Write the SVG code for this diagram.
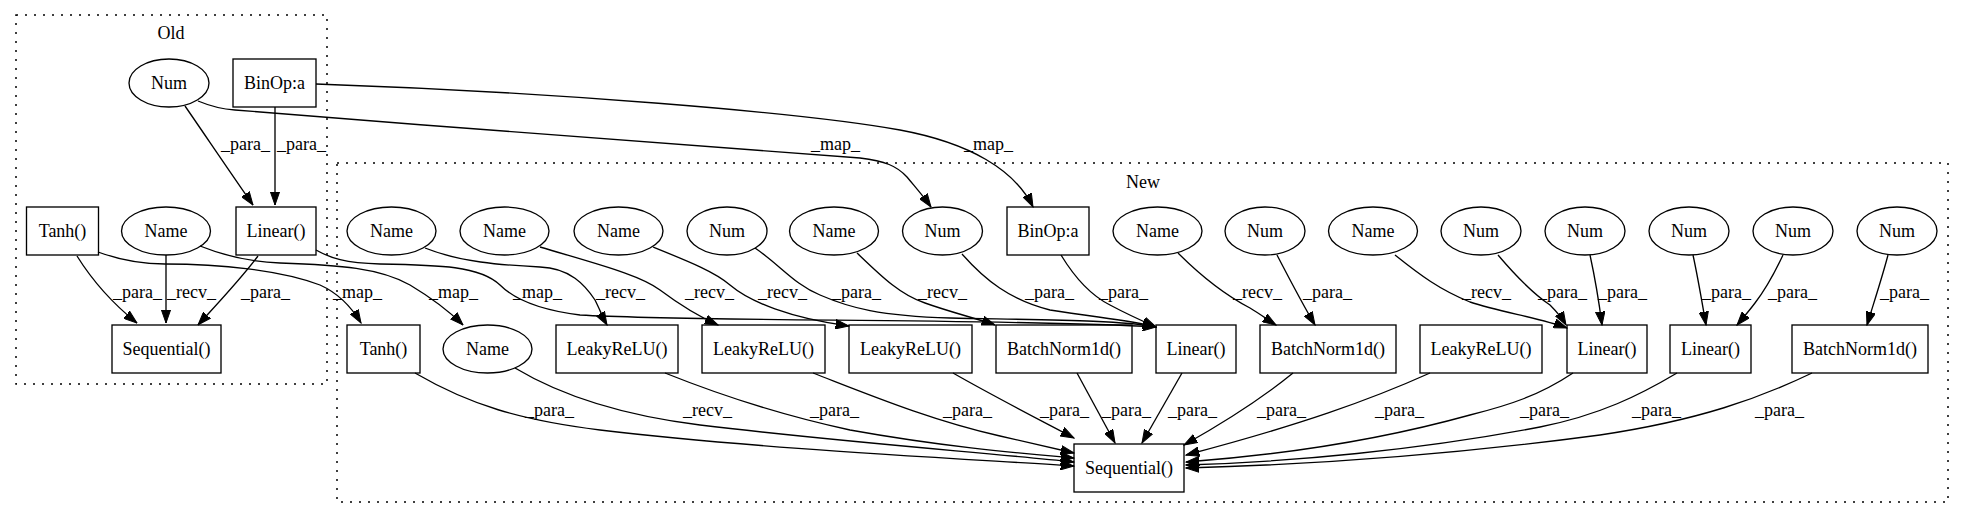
<svg xmlns="http://www.w3.org/2000/svg" width="1964" height="518" viewBox="0 0 1964 518" font-family="'Liberation Serif', 'Times New Roman', 'DejaVu Serif', serif">
<style>
text{font-family:'Liberation Serif','Times New Roman','DejaVu Serif',serif;font-size:18px;fill:#000}
.n{text-anchor:middle}
.s{fill:none;stroke:#000;stroke-width:1.33}
.c{fill:none;stroke:#000;stroke-width:1.5;stroke-dasharray:2,7}
.e{fill:none;stroke:#000;stroke-width:1.33;marker-end:url(#ah)}
</style>
<defs>
<marker id="ah" markerUnits="userSpaceOnUse" markerWidth="14" markerHeight="10" viewBox="0 0 14 10" refX="13.3" refY="5" orient="auto">
<path d="M0,0.33 L13.3,5 L0,9.67 z" fill="#000" stroke="#000" stroke-width="1"/>
</marker>
</defs>
<rect width="1964" height="518" fill="#fff"/>
<g id="cluster_old">
<rect class="c" x="16" y="15" width="311" height="369"/>
<text class="n" x="171" y="39">Old</text>
</g>
<g id="cluster_new">
<rect class="c" x="337" y="163" width="1611" height="339"/>
<text class="n" x="1143" y="188">New</text>
</g>
<g id="connectors">
<path class="e" d="M185,106 C205,135 232,175 253,205"/>
<path class="e" d="M275,107 L275,205"/>
<path class="e" d="M77,256 C92,280 112,303 137,323"/>
<path class="e" d="M166,255 L166,323"/>
<path class="e" d="M258,256 C240,280 218,303 198,325"/>
<path class="e" d="M198,101 C210,106 220,109 235,110 C450,128 700,145 860,158 C885,161 897,166 907,177 C916,188 924,197 931,207"/>
<path class="e" d="M316,84 C550,92 800,112 900,130 C970,143 1015,170 1033,207"/>
<path class="e" d="M98,252 C120,260 140,264 165,264 C220,264 280,270 320,285 C340,294 352,308 361,323"/>
<path class="e" d="M200,246 C225,256 250,262 280,263 C340,265 380,268 410,285 C430,297 450,312 463,325"/>
<path class="e" d="M316,250 C330,258 345,263 380,264 C440,265 480,266 500,285 C515,300 540,310 580,315 C700,322 1000,318 1156,327"/>
<path class="e" d="M425,248 C460,262 500,265 540,267 C570,268 585,285 595,300 C600,310 603,318 607,325"/>
<path class="e" d="M540,247 C600,265 640,275 660,290 C680,305 700,317 718,325"/>
<path class="e" d="M653,247 C690,262 715,272 730,285 C750,302 790,318 849,326"/>
<path class="e" d="M755,248 C780,265 795,285 820,295 C850,308 880,316 950,318 C1050,320 1120,320 1156,327"/>
<path class="e" d="M857,253 C880,275 900,295 925,303 C950,312 975,318 995,325"/>
<path class="e" d="M962,254 C985,280 1010,300 1050,310 C1100,318 1130,320 1156,327"/>
<path class="e" d="M1061,255 C1075,278 1090,295 1110,305 C1125,313 1140,320 1156,327"/>
<path class="e" d="M1178,253 C1200,275 1225,295 1250,308 C1260,314 1268,320 1276,325"/>
<path class="e" d="M1277,255 C1290,280 1303,305 1315,325"/>
<path class="e" d="M1395,255 C1420,275 1440,290 1470,302 C1500,312 1540,318 1567,328"/>
<path class="e" d="M1498,255 C1515,275 1535,295 1550,305 C1557,312 1562,318 1566,325"/>
<path class="e" d="M1590,255 C1595,278 1599,302 1602,325"/>
<path class="e" d="M1693,255 C1698,278 1702,302 1706,325"/>
<path class="e" d="M1783,255 C1775,272 1765,290 1755,303 C1749,311 1743,318 1737,325"/>
<path class="e" d="M1888,255 C1882,278 1874,302 1867,325"/>
<path class="e" d="M415,373 C470,405 520,420 600,430 C750,448 950,458 1074,466"/>
<path class="e" d="M515,368 C560,395 620,415 700,425 C850,443 980,452 1074,462"/>
<path class="e" d="M665,373 C720,395 780,415 850,430 C950,448 1030,454 1074,458"/>
<path class="e" d="M813,373 C870,395 930,420 1000,436 C1040,445 1060,450 1074,453"/>
<path class="e" d="M953,373 C995,397 1040,420 1074,438"/>
<path class="e" d="M1077,373 L1115,443"/>
<path class="e" d="M1182,373 L1142,443"/>
<path class="e" d="M1293,373 C1260,400 1225,422 1184,445"/>
<path class="e" d="M1430,373 C1370,400 1300,425 1186,455"/>
<path class="e" d="M1573,373 C1540,395 1510,405 1470,415 C1380,440 1280,455 1186,462"/>
<path class="e" d="M1677,373 C1640,395 1600,415 1540,427 C1420,450 1290,462 1186,465"/>
<path class="e" d="M1812,373 C1760,398 1700,420 1600,435 C1450,455 1300,465 1186,468"/>
<text x="221" y="150">_para_</text>
<text x="277" y="150">_para_</text>
<text x="113" y="298">_para_</text>
<text x="167" y="298">_recv_</text>
<text x="241" y="298">_para_</text>
<text x="811" y="150">_map_</text>
<text x="964" y="150">_map_</text>
<text x="333" y="298">_map_</text>
<text x="429" y="298">_map_</text>
<text x="513" y="298">_map_</text>
<text x="596" y="298">_recv_</text>
<text x="685" y="298">_recv_</text>
<text x="758" y="298">_recv_</text>
<text x="832" y="298">_para_</text>
<text x="918" y="298">_recv_</text>
<text x="1025" y="298">_para_</text>
<text x="1099" y="298">_para_</text>
<text x="1233" y="298">_recv_</text>
<text x="1303" y="298">_para_</text>
<text x="1462" y="298">_recv_</text>
<text x="1538" y="298">_para_</text>
<text x="1598" y="298">_para_</text>
<text x="1702" y="298">_para_</text>
<text x="1768" y="298">_para_</text>
<text x="1880" y="298">_para_</text>
<text x="525" y="416">_para_</text>
<text x="683" y="416">_recv_</text>
<text x="810" y="416">_para_</text>
<text x="943" y="416">_para_</text>
<text x="1040" y="416">_para_</text>
<text x="1102" y="416">_para_</text>
<text x="1168" y="416">_para_</text>
<text x="1257" y="416">_para_</text>
<text x="1375" y="416">_para_</text>
<text x="1520" y="416">_para_</text>
<text x="1632" y="416">_para_</text>
<text x="1755" y="416">_para_</text>
</g>
<g id="old_num"><ellipse class="s" cx="169" cy="83" rx="40" ry="24"/><text class="n" x="169" y="89">Num</text></g>
<g id="old_binop"><rect class="s" x="233" y="59" width="83" height="48"/><text class="n" x="274.5" y="89">BinOp:a</text></g>
<g id="old_tanh"><rect class="s" x="26.5" y="207" width="72" height="48"/><text class="n" x="62.5" y="237">Tanh()</text></g>
<g id="old_name"><ellipse class="s" cx="166" cy="231" rx="44.5" ry="24"/><text class="n" x="166" y="237">Name</text></g>
<g id="old_linear"><rect class="s" x="236" y="207" width="80" height="48"/><text class="n" x="276" y="237">Linear()</text></g>
<g id="old_sequential"><rect class="s" x="112" y="325" width="109" height="48"/><text class="n" x="166.5" y="355">Sequential()</text></g>
<g id="new_name1"><ellipse class="s" cx="391.5" cy="231" rx="44.5" ry="24"/><text class="n" x="391.5" y="237">Name</text></g>
<g id="new_name2"><ellipse class="s" cx="504.5" cy="231" rx="44.5" ry="24"/><text class="n" x="504.5" y="237">Name</text></g>
<g id="new_name3"><ellipse class="s" cx="618.5" cy="231" rx="44.5" ry="24"/><text class="n" x="618.5" y="237">Name</text></g>
<g id="new_num1"><ellipse class="s" cx="727" cy="231" rx="40" ry="24"/><text class="n" x="727" y="237">Num</text></g>
<g id="new_name4"><ellipse class="s" cx="834" cy="231" rx="44.5" ry="24"/><text class="n" x="834" y="237">Name</text></g>
<g id="new_num2"><ellipse class="s" cx="942.5" cy="231" rx="40" ry="24"/><text class="n" x="942.5" y="237">Num</text></g>
<g id="new_binop"><rect class="s" x="1007" y="207" width="82" height="48"/><text class="n" x="1048" y="237">BinOp:a</text></g>
<g id="new_name5"><ellipse class="s" cx="1157.5" cy="231" rx="44.5" ry="24"/><text class="n" x="1157.5" y="237">Name</text></g>
<g id="new_num3"><ellipse class="s" cx="1265" cy="231" rx="40" ry="24"/><text class="n" x="1265" y="237">Num</text></g>
<g id="new_name6"><ellipse class="s" cx="1373" cy="231" rx="44.5" ry="24"/><text class="n" x="1373" y="237">Name</text></g>
<g id="new_num4"><ellipse class="s" cx="1481" cy="231" rx="40" ry="24"/><text class="n" x="1481" y="237">Num</text></g>
<g id="new_num5"><ellipse class="s" cx="1585" cy="231" rx="40" ry="24"/><text class="n" x="1585" y="237">Num</text></g>
<g id="new_num6"><ellipse class="s" cx="1689" cy="231" rx="40" ry="24"/><text class="n" x="1689" y="237">Num</text></g>
<g id="new_num7"><ellipse class="s" cx="1793" cy="231" rx="40" ry="24"/><text class="n" x="1793" y="237">Num</text></g>
<g id="new_num8"><ellipse class="s" cx="1897" cy="231" rx="40" ry="24"/><text class="n" x="1897" y="237">Num</text></g>
<g id="new_tanh"><rect class="s" x="347" y="325" width="73" height="48"/><text class="n" x="383.5" y="355">Tanh()</text></g>
<g id="new_name7"><ellipse class="s" cx="487.5" cy="349" rx="44.5" ry="24"/><text class="n" x="487.5" y="355">Name</text></g>
<g id="new_leaky1"><rect class="s" x="556" y="325" width="122" height="48"/><text class="n" x="617" y="355">LeakyReLU()</text></g>
<g id="new_leaky2"><rect class="s" x="702" y="325" width="123" height="48"/><text class="n" x="763.5" y="355">LeakyReLU()</text></g>
<g id="new_leaky3"><rect class="s" x="849" y="325" width="123" height="48"/><text class="n" x="910.5" y="355">LeakyReLU()</text></g>
<g id="new_bn1"><rect class="s" x="996" y="325" width="136" height="48"/><text class="n" x="1064" y="355">BatchNorm1d()</text></g>
<g id="new_linear1"><rect class="s" x="1156" y="325" width="80" height="48"/><text class="n" x="1196" y="355">Linear()</text></g>
<g id="new_bn2"><rect class="s" x="1260" y="325" width="136" height="48"/><text class="n" x="1328" y="355">BatchNorm1d()</text></g>
<g id="new_leaky4"><rect class="s" x="1420" y="325" width="122" height="48"/><text class="n" x="1481" y="355">LeakyReLU()</text></g>
<g id="new_linear2"><rect class="s" x="1567" y="325" width="80" height="48"/><text class="n" x="1607" y="355">Linear()</text></g>
<g id="new_linear3"><rect class="s" x="1670" y="325" width="81" height="48"/><text class="n" x="1710.5" y="355">Linear()</text></g>
<g id="new_bn3"><rect class="s" x="1792" y="325" width="136" height="48"/><text class="n" x="1860" y="355">BatchNorm1d()</text></g>
<g id="new_sequential"><rect class="s" x="1074" y="444" width="110" height="48"/><text class="n" x="1129" y="474">Sequential()</text></g>
</svg>
